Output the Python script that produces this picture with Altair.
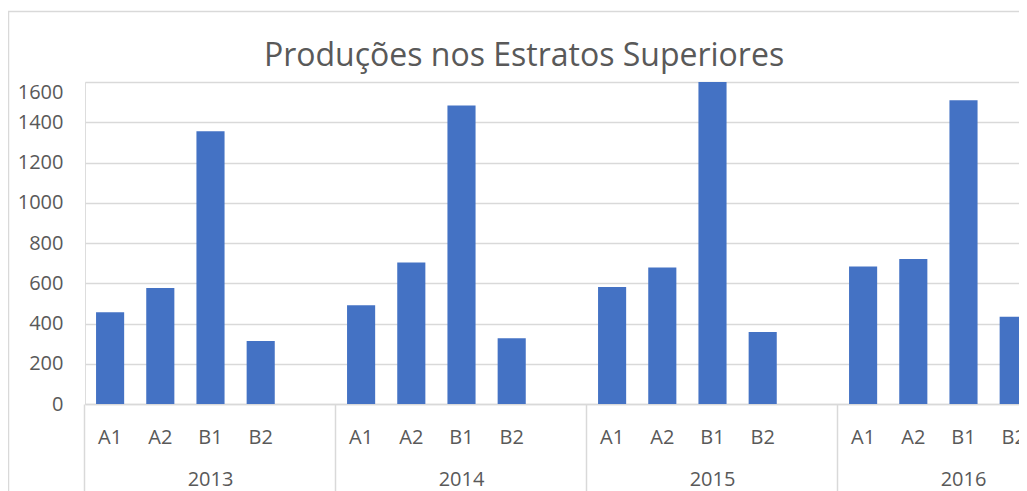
import altair as alt
import pandas as pd

# ---- data ----
years = ["2013", "2014", "2015", "2016"]
strata = ["A1", "A2", "B1", "B2"]
v2013 = [456, 576, 1355, 313]
v2014 = [491, 703, 1483, 327]
v2015 = [581, 678, 1600, 358]
v2016 = [683, 721, 1509, 434]
values = [v2013, v2014, v2015, v2016]
y_ticks = [0, 200, 400, 600, 800, 1000, 1200, 1400, 1600]
title_text = "Produções nos Estratos Superiores"

# slots: 4 strata + one empty gap slot per year
slots = []
for yr in years:
    slots += [f"{yr}|{s}" for s in strata] + [f"{yr}|"]

df = pd.DataFrame(
    [{"slot": f"{yr}|{s}", "value": v} for yr, vals in zip(years, values) for s, v in zip(strata, vals)]
)
ydf = pd.DataFrame({"year": years, "slot": [f"{yr}|B1" for yr in years]})
one = pd.DataFrame({"k": [0]})

W, H = 934, 322
STEP = 50.2
FONT = "Open Sans"
TXT = "#595959"
GRID = "#d9d9d9"

xscale = alt.Scale(domain=slots, range=[0, STEP * len(slots)], paddingInner=0.44, paddingOuter=0.22)
yscale = alt.Scale(domain=[0, 1600], nice=False)

xaxis = alt.Axis(
    title=None,
    orient="bottom",
    bandPosition=-0.3929,
    labelExpr="split(datum.value, '|')[1]",
    labelFont=FONT,
    labelFontSize=20,
    labelColor=TXT,
    labelAngle=0,
    labelBaseline="alphabetic",
    labelPadding=-47.5,
    ticks=True,
    tickSize=87,
    tickColor=GRID,
    tickWidth=1.5,
    tickOpacity={"condition": {"test": "indexof(datum.value, '|A1') >= 0", "value": 1}, "value": 0},
    domain=True,
    domainColor=GRID,
    domainWidth=1.5,
    grid=False,
    labelOverlap=False,
)
yaxis = alt.Axis(
    title=None,
    values=y_ticks,
    format="d",
    grid=True,
    gridColor=GRID,
    gridWidth=1.5,
    domain=False,
    ticks=False,
    labelFont=FONT,
    labelFontSize=20,
    labelColor=TXT,
    labelPadding=22,
    labelBaseline={"condition": {"test": "datum.value == 1600", "value": "top"}, "value": "middle"},
)

bars = alt.Chart(df).mark_bar(color="#4472C4", clip=True).encode(
    x=alt.X("slot:N", scale=xscale, axis=xaxis, sort=slots),
    y=alt.Y("value:Q", scale=yscale, axis=yaxis),
)

year_labels = alt.Chart(ydf).mark_text(
    font=FONT, fontSize=20, color=TXT, baseline="alphabetic", align="center"
).encode(
    x=alt.X("slot:N", scale=xscale, sort=slots),
    y=alt.value(H + 82),
    text="year:N",
)

frame_top = alt.Chart(one).mark_rule(color=GRID, strokeWidth=1.5).encode(
    x=alt.value(-77), x2=alt.value(W), y=alt.value(-70.5)
)
frame_left = alt.Chart(one).mark_rule(color=GRID, strokeWidth=1.5).encode(
    x=alt.value(-76.5), y=alt.value(-70.5), y2=alt.value(H + 90)
)

chart = alt.layer(bars, year_labels, frame_top, frame_left).properties(
    width=W,
    height=H,
    autosize=alt.AutoSizeParams(type="none"),
    padding={"left": 77, "top": 74, "right": 0, "bottom": 87},
    title=alt.TitleParams(
        title_text,
        font=FONT,
        fontSize=32,
        fontWeight="normal",
        color=TXT,
        anchor="middle",
        frame="group",
        baseline="alphabetic",
        dx=-28,
        offset=-87,
    ),
).configure_view(stroke=None).configure(background="white")

chart.save("out.html", embed_options={"renderer": "svg", "actions": False})
